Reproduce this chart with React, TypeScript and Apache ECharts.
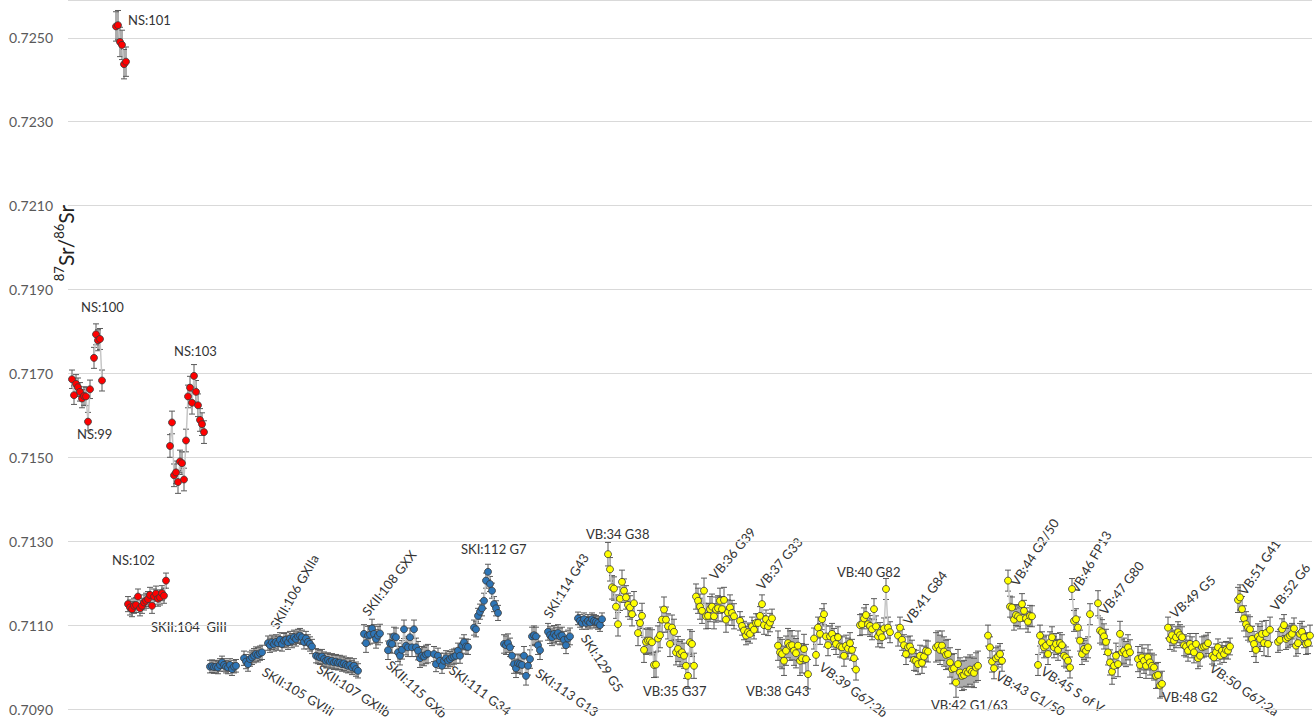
import React, { useEffect, useRef } from 'react';
import * as echarts from 'echarts';

// ---- Data: 87Sr/86Sr values per sample group ----
const NS99 = [0.71686, 0.71648, 0.71675, 0.71667, 0.71656, 0.71640, 0.71646, 0.71645, 0.71585, 0.71662];
const NS100 = [0.71737, 0.71793, 0.71779, 0.71782, 0.71683];
const NS101 = [0.72527, 0.72530, 0.72490, 0.72483, 0.72437, 0.72443];
const NS102 = [0.71150, 0.71142, 0.71138, 0.71146, 0.71148, 0.71168, 0.71140, 0.71146, 0.71154, 0.71158, 0.71162, 0.71172, 0.71146, 0.71168, 0.71175, 0.71163, 0.71166, 0.71176, 0.71170, 0.71206];
const NS103 = [0.71527, 0.71583, 0.71457, 0.71464, 0.71441, 0.71490, 0.71486, 0.71447, 0.71540, 0.71645, 0.71666, 0.71630, 0.71694, 0.71656, 0.71624, 0.71589, 0.71579, 0.71560];
const SKII104 = [0.71001, 0.71002, 0.71000, 0.71001, 0.70999, 0.71005, 0.71011, 0.71005, 0.71001, 0.70999, 0.71005, 0.70995, 0.71001, 0.71003];
const SKII105 = [0.71021, 0.71013, 0.71007, 0.71019, 0.71023, 0.71027, 0.71031, 0.71029, 0.71033, 0.71035];
const SKII106 = [0.71057, 0.71052, 0.71059, 0.71055, 0.71060, 0.71057, 0.71065, 0.71055, 0.71063, 0.71065, 0.71059, 0.71068, 0.71063, 0.71071, 0.71067, 0.71073, 0.71075, 0.71071, 0.71060, 0.71068, 0.71060, 0.71055, 0.71049];
const SKII107 = [0.71027, 0.71025, 0.71023, 0.71025, 0.71019, 0.71015, 0.71017, 0.71013, 0.71015, 0.71011, 0.71013, 0.71010, 0.71011, 0.71007, 0.71009, 0.71005, 0.71003, 0.71005, 0.70999, 0.71003, 0.70995, 0.70991];
const SKII108 = [0.71079, 0.71057, 0.71075, 0.71077, 0.71092, 0.71079, 0.71067, 0.71075, 0.71080];
const SKII115 = [0.71040, 0.71057, 0.71055, 0.71073, 0.71071, 0.71035, 0.71027, 0.71041, 0.71090, 0.71051, 0.71047, 0.71071, 0.71047, 0.71090, 0.71047, 0.71039, 0.71021, 0.71027, 0.71025, 0.71030, 0.71032];
const SKI111 = [0.71031, 0.71007, 0.71027, 0.71015, 0.71003, 0.71015, 0.71021, 0.71015, 0.71019, 0.71023, 0.71025, 0.71027, 0.71039, 0.71027, 0.71051, 0.71059, 0.71049, 0.71048];
const SKI112 = [0.71094, 0.71090, 0.71122, 0.71132, 0.71140, 0.71158, 0.71206, 0.71227, 0.71198, 0.71182, 0.71150, 0.71140, 0.71129];
const SKI113 = [0.71055, 0.71052, 0.71057, 0.71047, 0.71027, 0.71007, 0.70997, 0.71009, 0.71007, 0.71005, 0.71027, 0.70979, 0.71003, 0.71019, 0.71073, 0.71076, 0.71073, 0.71052, 0.71040];
const SKI114 = [0.71084, 0.71076, 0.71071, 0.71079, 0.71075, 0.71081, 0.71073, 0.71075, 0.71065, 0.71052, 0.71068, 0.71073];
const SKI129 = [0.71116, 0.71110, 0.71105, 0.71114, 0.71105, 0.71110, 0.71106, 0.71114, 0.71110, 0.71108, 0.71105, 0.71100, 0.71114];
const VB34 = [0.71269, 0.71233, 0.71190, 0.71187, 0.71144, 0.71102, 0.71163, 0.71203, 0.71182, 0.71166, 0.71148, 0.71142, 0.71126, 0.71152];
const VB35 = [0.71081, 0.71105, 0.71122, 0.71041, 0.71060, 0.71063, 0.71063, 0.71059, 0.71005, 0.71006, 0.71068, 0.71076, 0.71113, 0.71137, 0.71113, 0.71097, 0.71055, 0.71094, 0.71084, 0.71035, 0.71043, 0.71031, 0.71035, 0.71027, 0.71003, 0.70979, 0.71059, 0.71055, 0.71003];
const VB36 = [0.71168, 0.71158, 0.71144, 0.71134, 0.71182, 0.71121, 0.71122, 0.71138, 0.71144, 0.71121, 0.71137, 0.71140, 0.71158, 0.71138, 0.71160, 0.71113, 0.71130, 0.71142, 0.71129, 0.71121];
const VB37 = [0.71110, 0.71098, 0.71087, 0.71075, 0.71083, 0.71079, 0.71097, 0.71089, 0.71105, 0.71105, 0.71122, 0.71150, 0.71100, 0.71114, 0.71097, 0.71106, 0.71116];
const VB38 = [0.71051, 0.71035, 0.71031, 0.71015, 0.71039, 0.71057, 0.71051, 0.71052, 0.71039, 0.71033, 0.71051, 0.71015, 0.71021, 0.71043, 0.71019, 0.70983];
const VB39 = [0.71068, 0.71029, 0.71094, 0.71079, 0.71114, 0.71126, 0.71073, 0.71052, 0.71073, 0.71079, 0.71067, 0.71055, 0.71071, 0.71049, 0.71047, 0.71027, 0.71051, 0.71044, 0.71057, 0.71041, 0.71021, 0.70994];
const VB40 = [0.71100, 0.71102, 0.71116, 0.71124, 0.71102, 0.71098, 0.71090, 0.71138, 0.71097, 0.71073, 0.71081, 0.71071, 0.71092, 0.71186, 0.71094, 0.71083];
const VB41 = [0.71075, 0.71094, 0.71065, 0.71052, 0.71031, 0.71047, 0.71049, 0.71039, 0.71017, 0.71015, 0.71007, 0.71027, 0.71010, 0.71025, 0.71039, 0.71037];
const VB42 = [0.71047, 0.71051, 0.71041, 0.71051, 0.71037, 0.71029, 0.71031, 0.71011, 0.70995, 0.70997, 0.70963, 0.71007, 0.70987, 0.70979, 0.70981, 0.70989, 0.70987, 0.70994, 0.70989, 0.70986, 0.70999, 0.71003];
const VB43 = [0.71075, 0.71047, 0.71013, 0.70997, 0.71021, 0.71025, 0.71031, 0.71015];
const VB44 = [0.71206, 0.71144, 0.71142, 0.71113, 0.71124, 0.71121, 0.71116, 0.71150, 0.71134, 0.71116, 0.71108, 0.71122, 0.71121];
const VB45 = [0.71005, 0.71075, 0.71059, 0.71047, 0.71051, 0.71031, 0.71059, 0.71071, 0.71047, 0.71055, 0.71041, 0.71057, 0.71052, 0.71027, 0.71023, 0.71015, 0.70999];
const VB46 = [0.71186, 0.71110, 0.71114, 0.71094, 0.71063, 0.71031, 0.71043, 0.71039, 0.71047, 0.71126];
const VB47 = [0.71152, 0.71087, 0.71083, 0.71073, 0.71060, 0.71035, 0.71011, 0.70989, 0.71003, 0.71027, 0.71007, 0.71079, 0.71035, 0.71039, 0.71031, 0.71047, 0.71035];
const VB48 = [0.71019, 0.71005, 0.71023, 0.71015, 0.71003, 0.71023, 0.71011, 0.71003, 0.70999, 0.70979, 0.70981, 0.70956, 0.70960];
const VB49 = [0.71094, 0.71067, 0.71076, 0.71063, 0.71071, 0.71083, 0.71076, 0.71071, 0.71052, 0.71049, 0.71039, 0.71055, 0.71047, 0.71035, 0.71055, 0.71021, 0.71027, 0.71047, 0.71049, 0.71051, 0.71057];
const VB50 = [0.71027, 0.71023, 0.71035, 0.71047, 0.71027, 0.71039, 0.71031, 0.71041, 0.71039, 0.71049];
const VB51 = [0.71160, 0.71166, 0.71138, 0.71116, 0.71102, 0.71094, 0.71090, 0.71067, 0.71055, 0.71041, 0.71073, 0.71067, 0.71079, 0.71057, 0.71081, 0.71055, 0.71089];
const VB52 = [0.71060, 0.71065, 0.71090, 0.71100, 0.71067, 0.71071, 0.71075, 0.71079, 0.71092, 0.71051, 0.71057, 0.71079, 0.71084, 0.71071, 0.71055, 0.71057, 0.71075];

const groupValues = [NS99, NS100, NS101, NS102, NS103, SKII104, SKII105, SKII106, SKII107, SKII108, SKII115, SKI111, SKI112, SKI113, SKI114, SKI129,
  VB34, VB35, VB36, VB37, VB38, VB39, VB40, VB41, VB42, VB43, VB44, VB45, VB46, VB47, VB48, VB49, VB50, VB51, VB52];
const groupSite = ['NS', 'NS', 'NS', 'NS', 'NS', 'SK', 'SK', 'SK', 'SK', 'SK', 'SK', 'SK', 'SK', 'SK', 'SK', 'SK',
  'VB', 'VB', 'VB', 'VB', 'VB', 'VB', 'VB', 'VB', 'VB', 'VB', 'VB', 'VB', 'VB', 'VB', 'VB', 'VB', 'VB', 'VB', 'VB'];
// first sample number (x) of every group
const groupStart = [2, 13, 24, 30, 51, 71, 88, 100, 124, 148, 160, 183, 203, 218, 240, 255,
  270, 285, 314, 336, 355, 373, 396, 415, 434, 460, 470, 485, 502, 515, 535, 550, 572, 585, 605];
// analytical uncertainty of each group
const groupError = [0.00022, 0.00025, 0.00035, 0.00018, 0.00027, 0.00015, 0.00017, 0.00017, 0.00017, 0.00022, 0.00022, 0.00018, 0.00018, 0.00022, 0.00020, 0.00015,
  0.00028, 0.00030, 0.00030, 0.00022, 0.00035, 0.00025, 0.00025, 0.00025, 0.00035, 0.00025, 0.00025, 0.00025, 0.00025, 0.00030, 0.00030, 0.00025, 0.00020, 0.00030, 0.00025];

// ---- Annotation labels: [text, x px, y px, angle deg] ----
const flatLabels: [string, number, number][] = [
  ['NS:101', 128, 20], ['NS:100', 81, 307], ['NS:99', 77, 434], ['NS:103', 174, 351], ['NS:102', 112, 560],
  ['SKII:104  GIII', 151, 627], ['SKI:112 G7', 461, 549], ['VB:34 G38', 586, 534], ['VB:35 G37', 643, 691],
  ['VB:38 G43', 746, 691], ['VB:40 G82', 837, 572], ['VB:42 G1/63', 931, 705], ['VB:48 G2', 1162, 697],
];
const risingLabels: [string, number, number, number][] = [
  ['SKII:106 GXIIa', 279, 631, 60], ['SKII:108 GXX', 370, 618, 52], ['SKI:114 G43', 552, 620, 58],
  ['VB:36 G39', 717, 582, 50], ['VB:37 G33', 764, 592, 50], ['VB:41 G84', 911, 627, 53],
  ['VB:44 G2/50', 1019, 588, 57], ['VB:46 FP13', 1079, 595, 60], ['VB:47 G80', 1107, 617, 52],
  ['VB:49 G5', 1176, 620, 42], ['VB:51 G41', 1247, 597, 56], ['VB:52 G6', 1278, 613, 52],
];
const fallingLabels: [string, number, number, number][] = [
  ['SKII:105 GVIII', 267, 665, 31], ['SKII:107 GXIIb', 322, 662, 33], ['SKII:115 GXb', 393, 658, 43],
  ['SKI:111 G34', 455, 663, 37], ['SKI:113 G13', 541, 666, 35], ['SKI:129 G5', 590, 632, 57],
  ['VB:39 G67:2b', 825, 660, 37], ['VB:43 G1/50', 1000, 669, 29], ['VB:45 S of V', 1046, 664, 33],
  ['VB:50 G67:2a', 1215, 661, 35],
];

const SITE_COLOR: Record<string, string> = { NS: '#ff0000', SK: '#2e75b6', VB: '#ffff00' };
const FONT = 'Lato, "Open Sans", sans-serif';
const TEXT_COLOR = '#333333';

export default function App() {
  const ref = useRef<HTMLDivElement>(null);
  useEffect(() => {
    const chart = echarts.init(ref.current!, null, { renderer: 'svg' });

    const errData: number[][] = [];
    const lineSeries: any[] = groupValues.map((vals, g) => {
      const data = vals.map((v, i) => {
        const x = groupStart[g] + i;
        errData.push([x, v - groupError[g], v + groupError[g]]);
        return [x, v];
      });
      return {
        type: 'line',
        data,
        symbol: 'circle',
        symbolSize: 7,
        showSymbol: true,
        itemStyle: { color: SITE_COLOR[groupSite[g]], borderColor: '#3a3a3a', borderWidth: 0.8 },
        lineStyle: { color: '#c6c6c6', width: 1.5 },
        z: 3,
        silent: true,
      };
    });

    const errSeries = {
      type: 'custom',
      data: errData,
      encode: { x: 0, y: [1, 2] },
      clip: false,
      silent: true,
      z: 2,
      renderItem: (_p: any, api: any) => {
        const x = api.value(0);
        const a = api.coord([x, api.value(1)]);
        const b = api.coord([x, api.value(2)]);
        const c = 3;
        const style = { stroke: '#5a5a5a', lineWidth: 1 };
        return {
          type: 'group',
          children: [
            { type: 'line', shape: { x1: a[0], y1: a[1], x2: b[0], y2: b[1] }, style },
            { type: 'line', shape: { x1: a[0] - c, y1: a[1], x2: a[0] + c, y2: a[1] }, style },
            { type: 'line', shape: { x1: b[0] - c, y1: b[1], x2: b[0] + c, y2: b[1] }, style },
          ],
        };
      },
    };

    const textStyle = { fill: TEXT_COLOR, font: `13px ${FONT}` };
    const graphics: any[] = [];
    flatLabels.forEach(([t, x, y]) => graphics.push({
      type: 'text', x, y, silent: true,
      style: { ...textStyle, text: t, textAlign: 'left', textVerticalAlign: 'middle' },
    }));
    risingLabels.forEach(([t, x, y, a]) => graphics.push({
      type: 'text', x, y, rotation: (a * Math.PI) / 180, silent: true,
      style: { ...textStyle, text: t, textAlign: 'left', textVerticalAlign: 'bottom' },
    }));
    fallingLabels.forEach(([t, x, y, a]) => graphics.push({
      type: 'text', x, y, rotation: (-a * Math.PI) / 180, silent: true,
      style: { ...textStyle, text: t, textAlign: 'left', textVerticalAlign: 'top' },
    }));
    graphics.push({
      type: 'text', x: 64, y: 243, rotation: Math.PI / 2, silent: true,
      style: {
        text: '{s|87}{b|Sr/}{s|86}{b|Sr}',
        textAlign: 'center', textVerticalAlign: 'middle',
        fill: '#222',
        rich: {
          s: { fontSize: 13, fontFamily: FONT, verticalAlign: 'top', lineHeight: 24, fill: '#222' },
          b: { fontSize: 21, fontFamily: FONT, verticalAlign: 'bottom', lineHeight: 24, fill: '#222' },
        },
      },
    });

    chart.setOption({
      animation: false,
      grid: { left: 68, right: 3, top: 0, bottom: 12, containLabel: false },
      xAxis: { type: 'value', min: 0, max: 622, show: false },
      yAxis: {
        type: 'value', min: 0.709, max: 0.7259, interval: 0.002,
        axisLine: { show: false }, axisTick: { show: false },
        splitLine: { lineStyle: { color: '#d9d9d9', width: 1 } },
        axisLabel: {
          showMaxLabel: false, margin: 15, color: '#595959', fontSize: 14, fontFamily: FONT,
          formatter: (v: number) => v.toFixed(4),
        },
      },
      series: [errSeries, ...lineSeries],
      graphic: graphics,
    });
    return () => chart.dispose();
  }, []);
  return <div ref={ref} style={{ position: 'absolute', left: 0, top: 0, width: 1315, height: 721 }} />;
}
